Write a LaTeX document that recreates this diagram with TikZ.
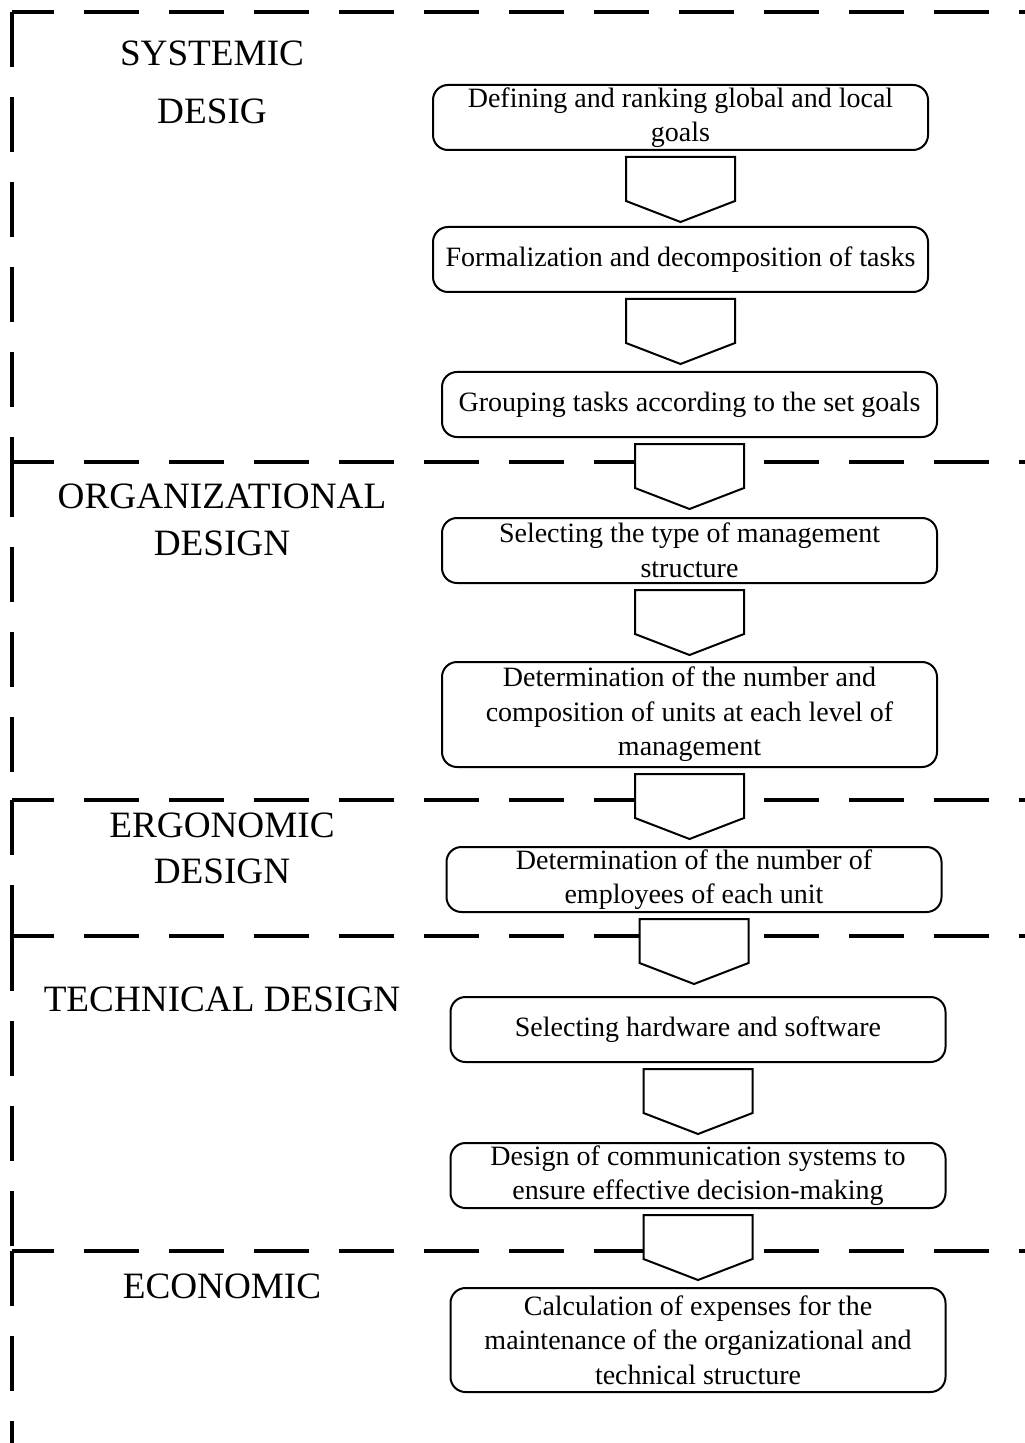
\documentclass[tikz,border=0pt]{standalone}
\usepackage{fontspec}
\setmainfont{Liberation Serif}
\usetikzlibrary{positioning, calc}

% block arrow hanging under a step
\newcommand{\flowarrow}[1]{%
  \draw[blockarrow] ($(#1.south)+(-54.5,7)$) -- ++(109,0) -- ++(0,44) -- ++(-54.5,21) -- ++(-54.5,-21) -- cycle;}

\begin{document}
\begin{tikzpicture}[
    x=0.5pt, y=-0.5pt,
    stepbox/.style={rectangle, draw, line width=1pt, rounded corners=7.5pt, fill=white, minimum width=247.5pt, minimum height=32.5pt, inner xsep=4pt, inner ysep=0pt, outer sep=0pt, align=center, font=\fontsize{14}{17.25}\selectfont},
    blockarrow/.style={draw, fill=white, line width=1pt, line join=miter},
    sectline/.style={line width=1.6pt, dash pattern=on 27.5pt off 15pt},
    phaselabel/.style={anchor=north, inner sep=0pt, align=center, font=\fontsize{18.6}{23}\selectfont}
]
\useasboundingbox (0,0) rectangle (1024,1443);

% Dashed frames of the design stages
\foreach \ya/\yb in {12/462, 462/800, 800/936, 936/1251, 1251/1443} {
    \draw[sectline, dash phase=6.5pt] (12,\ya) -- (1040,\ya);
    \draw[sectline] (12,\ya) -- (12,\yb);
}

% Stage names
\node[phaselabel] (sys) at (212,40) {SYSTEMIC\\[6pt]DESIG};
\node[phaselabel] (org) at (222,483) {ORGANIZATIONAL\\[0.5pt]DESIGN};
\node[phaselabel] (erg) at (222,812) {ERGONOMIC\\DESIGN};
\node[phaselabel] (tech) at (222,986) {TECHNICAL DESIGN};
\node[phaselabel] (eco) at (222,1273) {ECONOMIC};

% Steps
\node[stepbox] (goals) at (680.5,117.5) {Defining and ranking global and local\\goals};
\node[stepbox, below=38.5pt of goals] (tasks) {Formalization and decomposition of tasks};
\node[stepbox, below=40pt of tasks, xshift=4.5pt] (group) {Grouping tasks according to the set goals};
\node[stepbox, below=40.5pt of group] (struct) {Selecting the type of management\\structure};
\node[stepbox, below=39.5pt of struct, minimum height=52.5pt] (units) {Determination of the number and\\composition of units at each level of\\management};
\node[stepbox, below=40pt of units, xshift=2.25pt] (staff) {Determination of the number of\\employees of each unit};
\node[stepbox, below=42.5pt of staff, xshift=2pt] (hard) {Selecting hardware and software};
\node[stepbox, below=40.5pt of hard] (comm) {Design of communication systems to\\ensure effective decision-making};
\node[stepbox, below=40pt of comm, minimum height=52pt] (cost) {Calculation of expenses for the\\maintenance of the organizational and\\technical structure};

% Arrows
\flowarrow{goals}
\flowarrow{tasks}
\flowarrow{group}
\flowarrow{struct}
\flowarrow{units}
\flowarrow{staff}
\flowarrow{hard}
\flowarrow{comm}

\end{tikzpicture}
\end{document}
